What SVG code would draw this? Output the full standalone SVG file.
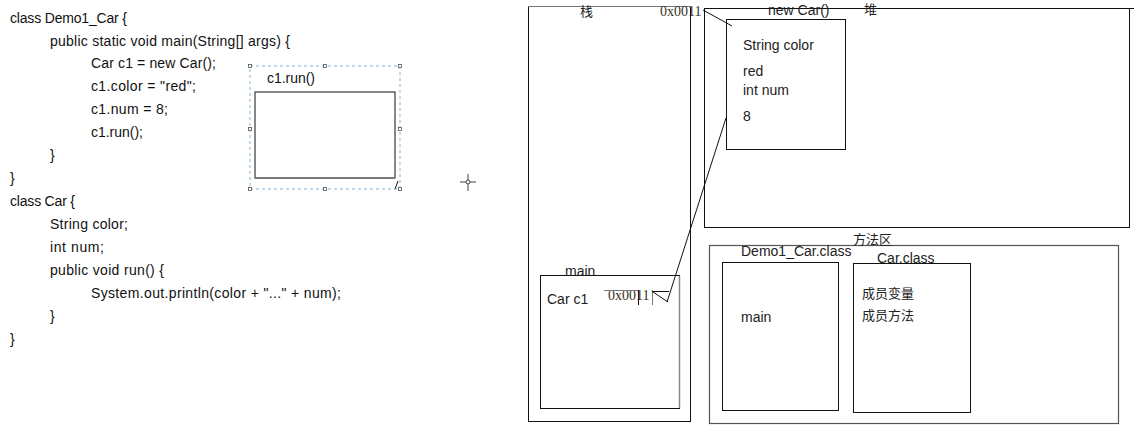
<svg xmlns="http://www.w3.org/2000/svg" width="1134" height="433" viewBox="0 0 1134 433">
<style>
.code{font-family:"Liberation Sans",Arial,sans-serif;font-size:14px;fill:#111}
.lbl{font-family:"Liberation Sans","Noto Sans CJK SC",sans-serif;font-size:14px;fill:#222}
.cjk{font-family:"Noto Sans CJK SC",sans-serif;font-size:13px;fill:#222}
.ser{font-family:"Liberation Serif",serif;font-size:14px;fill:#3a3020}
.box{fill:none;stroke:#111;stroke-width:1}
.gbox{fill:none;stroke:#555;stroke-width:1.2}
.ln{stroke:#111;stroke-width:1;fill:none}
.h{fill:#fff;stroke:#555;stroke-width:0.8}
</style>
<rect width="1134" height="433" fill="#fff"/>
<g id="code">
<text class="code" x="10" y="23" textLength="117">class Demo1_Car {</text>
<text class="code" x="50" y="46" textLength="240">public static void main(String[] args) {</text>
<text class="code" x="91" y="68" textLength="125">Car c1 = new Car();</text>
<text class="code" x="91" y="91" textLength="105">c1.color = "red";</text>
<text class="code" x="91" y="114" textLength="77">c1.num = 8;</text>
<text class="code" x="91" y="137" textLength="52">c1.run();</text>
<text class="code" x="50" y="160">}</text>
<text class="code" x="10" y="183">}</text>
<text class="code" x="10" y="206" textLength="65">class Car {</text>
<text class="code" x="50" y="229" textLength="78">String color;</text>
<text class="code" x="50" y="252" textLength="54">int num;</text>
<text class="code" x="50" y="275" textLength="114">public void run() {</text>
<text class="code" x="91" y="298" textLength="250">System.out.println(color + "..." + num);</text>
<text class="code" x="50" y="321">}</text>
<text class="code" x="10" y="344">}</text>
</g>
<g id="run-frame">
<rect x="250" y="66" width="150" height="123" fill="none" stroke="#7fb5dc" stroke-width="1" stroke-dasharray="3,3"/>
<text class="code" x="267" y="83" textLength="48">c1.run()</text>
<rect class="box" x="255" y="92" width="140" height="86"/>
<line x1="255" y1="178" x2="395" y2="178" stroke="#777" stroke-width="1.5"/>
<line class="ln" x1="398" y1="181" x2="395" y2="189"/>
<rect class="h" x="248.5" y="64.5" width="3" height="3"/>
<rect class="h" x="323.5" y="64.5" width="3" height="3"/>
<rect class="h" x="398.5" y="64.5" width="3" height="3"/>
<rect class="h" x="248.5" y="127.5" width="3" height="3"/>
<rect class="h" x="398.5" y="127.5" width="3" height="3"/>
<rect class="h" x="248.5" y="187.5" width="3" height="3"/>
<rect class="h" x="323.5" y="187.5" width="3" height="3"/>
<rect class="h" x="398.5" y="187.5" width="3" height="3"/>
</g>
<g id="cursor" stroke="#444" stroke-width="1" fill="none">
<line x1="460" y1="182" x2="476" y2="182"/>
<line x1="468" y1="174" x2="468" y2="191"/>
<circle cx="468" cy="182" r="2" fill="#fff"/>
</g>
<g id="stack">
<rect class="box" x="528.5" y="6.5" width="162" height="415"/>
<line x1="528" y1="6.5" x2="691" y2="6.5" stroke="#777" stroke-width="1"/>
<text class="cjk" x="580" y="16">栈</text>
<text class="ser" x="660" y="16">0x0011</text>
</g>
<g id="main-frame">
<rect class="box" x="540.5" y="275.5" width="139" height="133"/>
<line x1="679.5" y1="276" x2="679.5" y2="408" stroke="#888" stroke-width="1.5"/>
<text class="lbl" x="565" y="276">main</text>
<text class="lbl" x="547" y="304">Car c1</text>
<text class="ser" x="608" y="300">0x0011</text>
<line x1="604" y1="290.5" x2="638" y2="290.5" stroke="#777" stroke-width="1.2"/>
<line class="ln" x1="638.5" y1="290" x2="638.5" y2="305"/>
<line x1="652.5" y1="290" x2="652.5" y2="305" stroke="#777" stroke-width="1"/>
<line class="ln" x1="652" y1="291.5" x2="669" y2="291.5"/>
<line class="ln" x1="653" y1="292" x2="668" y2="302"/>
</g>
<g id="heap">
<rect class="box" x="704.5" y="8.5" width="425" height="219"/>
<line x1="704" y1="8.5" x2="1134" y2="8.5" stroke="#111" stroke-width="1"/>
<text class="lbl" x="768" y="15">new Car()</text>
<text class="cjk" x="864" y="14">堆</text>
</g>
<g id="car-object">
<rect class="box" x="726.5" y="19.5" width="119" height="130"/>
<text class="lbl" x="743" y="50">String color</text>
<text class="lbl" x="743" y="76">red</text>
<text class="lbl" x="743" y="95">int num</text>
<text class="lbl" x="743" y="121">8</text>
</g>
<g id="method-area">
<rect class="gbox" x="709.5" y="245.5" width="409" height="178"/>
<text class="cjk" x="853" y="244">方法区</text>
</g>
<g id="demo1-class">
<rect class="box" x="722.5" y="262.5" width="116" height="148"/>
<text class="lbl" x="741" y="256">Demo1_Car.class</text>
<text class="lbl" x="741" y="322">main</text>
</g>
<g id="car-class">
<rect class="box" x="853.5" y="263.5" width="117" height="149"/>
<text class="lbl" x="877" y="263">Car.class</text>
<text class="cjk" x="862" y="298">成员变量</text>
<text class="cjk" x="862" y="320">成员方法</text>
</g>
<g id="connectors">
<line class="ln" x1="703" y1="10" x2="732" y2="26"/>
<line class="ln" x1="726" y1="118" x2="667" y2="302"/>
</g>
</svg>
